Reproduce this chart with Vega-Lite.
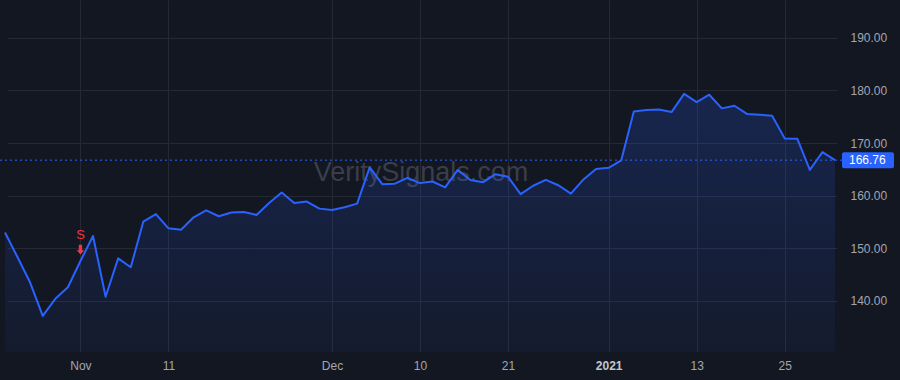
{
  "$schema": "https://vega.github.io/schema/vega-lite/v6.json",
  "width": 842,
  "height": 352,
  "autosize": {"type": "none"},
  "padding": {"left": 0, "top": 0, "right": 58, "bottom": 28},
  "background": "#131722",
  "config": {
    "view": {"stroke": null},
    "font": "Liberation Sans",
    "axis": {
      "gridColor": "#252934",
      "gridWidth": 1,
      "domain": false,
      "ticks": false,
      "labelColor": "#a3a6ae",
      "labelFont": "Liberation Sans",
      "labelFontSize": 12,
      "title": null
    }
  },
  "datasets": {
    "prices": [
      {"date": "2020-10-23", "close": 153.0},
      {"date": "2020-10-26", "close": 148.3},
      {"date": "2020-10-27", "close": 143.5},
      {"date": "2020-10-28", "close": 137.15},
      {"date": "2020-10-29", "close": 140.4},
      {"date": "2020-10-30", "close": 142.6},
      {"date": "2020-11-02", "close": 147.6},
      {"date": "2020-11-03", "close": 152.36},
      {"date": "2020-11-04", "close": 140.8},
      {"date": "2020-11-05", "close": 148.1},
      {"date": "2020-11-06", "close": 146.4},
      {"date": "2020-11-09", "close": 155.1},
      {"date": "2020-11-10", "close": 156.5},
      {"date": "2020-11-11", "close": 153.8},
      {"date": "2020-11-12", "close": 153.55},
      {"date": "2020-11-13", "close": 155.9},
      {"date": "2020-11-16", "close": 157.2},
      {"date": "2020-11-17", "close": 156.1},
      {"date": "2020-11-18", "close": 156.8},
      {"date": "2020-11-19", "close": 156.9},
      {"date": "2020-11-20", "close": 156.35},
      {"date": "2020-11-23", "close": 158.6},
      {"date": "2020-11-24", "close": 160.6},
      {"date": "2020-11-25", "close": 158.6},
      {"date": "2020-11-27", "close": 158.9},
      {"date": "2020-11-30", "close": 157.55},
      {"date": "2020-12-01", "close": 157.3},
      {"date": "2020-12-02", "close": 157.8},
      {"date": "2020-12-03", "close": 158.5},
      {"date": "2020-12-04", "close": 165.4},
      {"date": "2020-12-07", "close": 162.2},
      {"date": "2020-12-08", "close": 162.3},
      {"date": "2020-12-09", "close": 163.4},
      {"date": "2020-12-10", "close": 162.4},
      {"date": "2020-12-11", "close": 162.7},
      {"date": "2020-12-14", "close": 161.6},
      {"date": "2020-12-15", "close": 164.9},
      {"date": "2020-12-16", "close": 163.0},
      {"date": "2020-12-17", "close": 162.55},
      {"date": "2020-12-18", "close": 164.1},
      {"date": "2020-12-21", "close": 163.6},
      {"date": "2020-12-22", "close": 160.3},
      {"date": "2020-12-23", "close": 161.9},
      {"date": "2020-12-24", "close": 163.0},
      {"date": "2020-12-28", "close": 162.0},
      {"date": "2020-12-29", "close": 160.4},
      {"date": "2020-12-30", "close": 163.1},
      {"date": "2020-12-31", "close": 165.1},
      {"date": "2021-01-04", "close": 165.3},
      {"date": "2021-01-05", "close": 166.7},
      {"date": "2021-01-06", "close": 176.0},
      {"date": "2021-01-07", "close": 176.3},
      {"date": "2021-01-08", "close": 176.4},
      {"date": "2021-01-11", "close": 175.9},
      {"date": "2021-01-12", "close": 179.35},
      {"date": "2021-01-13", "close": 177.8},
      {"date": "2021-01-14", "close": 179.2},
      {"date": "2021-01-15", "close": 176.6},
      {"date": "2021-01-19", "close": 177.1},
      {"date": "2021-01-20", "close": 175.55},
      {"date": "2021-01-21", "close": 175.4},
      {"date": "2021-01-22", "close": 175.2},
      {"date": "2021-01-25", "close": 170.9},
      {"date": "2021-01-26", "close": 170.85},
      {"date": "2021-01-27", "close": 164.9},
      {"date": "2021-01-28", "close": 168.3},
      {"date": "2021-01-29", "close": 166.76}
    ],
    "signals": [
      {"date": "2020-11-02", "close": 147.6, "label": "S"}
    ],
    "last": [
      {"close": 166.76, "label": "166.76"}
    ],
    "watermark": [
      {"label": "VeritySignals.com"}
    ]
  },
  "layer": [
    {
      "data": {"name": "watermark"},
      "mark": {"type": "text", "fontSize": 27, "color": "#3a3e4a", "align": "center", "baseline": "middle", "font": "Liberation Sans"},
      "encoding": {
        "x": {"value": {"expr": "width/2"}},
        "y": {"value": {"expr": "height/2 - 3"}},
        "text": {"field": "label"}
      }
    },
    {
      "data": {"name": "prices"},
      "mark": {
        "type": "area",
        "line": false,
        "color": {
          "gradient": "linear",
          "x1": 0, "y1": 0, "x2": 0, "y2": 1,
          "stops": [
            {"offset": 0, "color": "rgba(41,98,255,0.2)"},
            {"offset": 1, "color": "rgba(41,98,255,0.05)"}
          ]
        }
      },
      "encoding": {
        "x": {
          "field": "date",
          "type": "ordinal",
          "sort": null,
          "scale": {"type": "point", "range": [5, 835], "padding": 0},
          "axis": {
            "values": ["2020-11-02", "2020-11-11", "2020-12-01", "2020-12-10", "2020-12-21", "2021-01-04", "2021-01-13", "2021-01-25"],
            "labelExpr": "datum.value == '2020-11-02' ? 'Nov' : datum.value == '2020-12-01' ? 'Dec' : datum.value == '2021-01-04' ? '2021' : substring(datum.value, 8, 10)",
            "labelAngle": 0,
            "labelPadding": 8,
            "grid": true,
            "labelFontWeight": {"condition": {"test": "datum.value == '2021-01-04'", "value": "bold"}, "value": "normal"},
            "labelColor": {"condition": {"test": "datum.value == '2021-01-04'", "value": "#c3c6ce"}, "value": "#a3a6ae"}
          }
        },
        "y": {
          "field": "close",
          "type": "quantitative",
          "scale": {"domain": [130.3, 197.2], "nice": false, "zero": false},
          "axis": {
            "orient": "right",
            "values": [140, 150, 160, 170, 180, 190],
            "format": ".2f",
            "labelPadding": 8,
            "grid": true
          }
        },
        "y2": {"datum": 130.3}
      }
    },
    {
      "data": {"name": "last"},
      "mark": {"type": "rule", "color": "#2962ff", "strokeWidth": 1, "strokeDash": [2, 3]},
      "encoding": {
        "y": {"field": "close", "type": "quantitative"},
        "x": {"value": 0},
        "x2": {"value": "width"}
      }
    },
    {
      "data": {"name": "prices"},
      "mark": {"type": "line", "color": "#2962ff", "strokeWidth": 2, "strokeJoin": "round"},
      "encoding": {
        "x": {"field": "date", "type": "ordinal", "sort": null},
        "y": {"field": "close", "type": "quantitative"}
      }
    },
    {
      "data": {"name": "signals"},
      "mark": {"type": "point", "filled": true, "color": "#f23645", "opacity": 1, "size": 225, "yOffset": -11,
        "shape": "M-0.22,-0.7 L0.22,-0.7 L0.22,0.05 L0.5,0.05 L0,0.62 L-0.5,0.05 L-0.22,0.05 Z"},
      "encoding": {
        "x": {"field": "date", "type": "ordinal", "sort": null},
        "y": {"field": "close", "type": "quantitative"}
      }
    },
    {
      "data": {"name": "signals"},
      "mark": {"type": "text", "color": "#f23645", "fontSize": 13, "align": "center", "baseline": "middle", "dy": -26},
      "encoding": {
        "x": {"field": "date", "type": "ordinal", "sort": null},
        "y": {"field": "close", "type": "quantitative"},
        "text": {"field": "label"}
      }
    },
    {
      "data": {"name": "last"},
      "mark": {"type": "rect", "color": "#2962ff", "cornerRadius": 2, "yOffset": -8, "y2Offset": 8, "x2Offset": 52, "clip": false},
      "encoding": {
        "x": {"value": "width"},
        "x2": {"value": "width"},
        "y": {"field": "close", "type": "quantitative"},
        "y2": {"field": "close"}
      }
    },
    {
      "data": {"name": "last"},
      "mark": {"type": "text", "color": "#ffffff", "fontSize": 12, "align": "left", "baseline": "middle", "dx": 7},
      "encoding": {
        "x": {"value": "width"},
        "y": {"field": "close", "type": "quantitative"},
        "text": {"field": "label"}
      }
    }
  ]
}
